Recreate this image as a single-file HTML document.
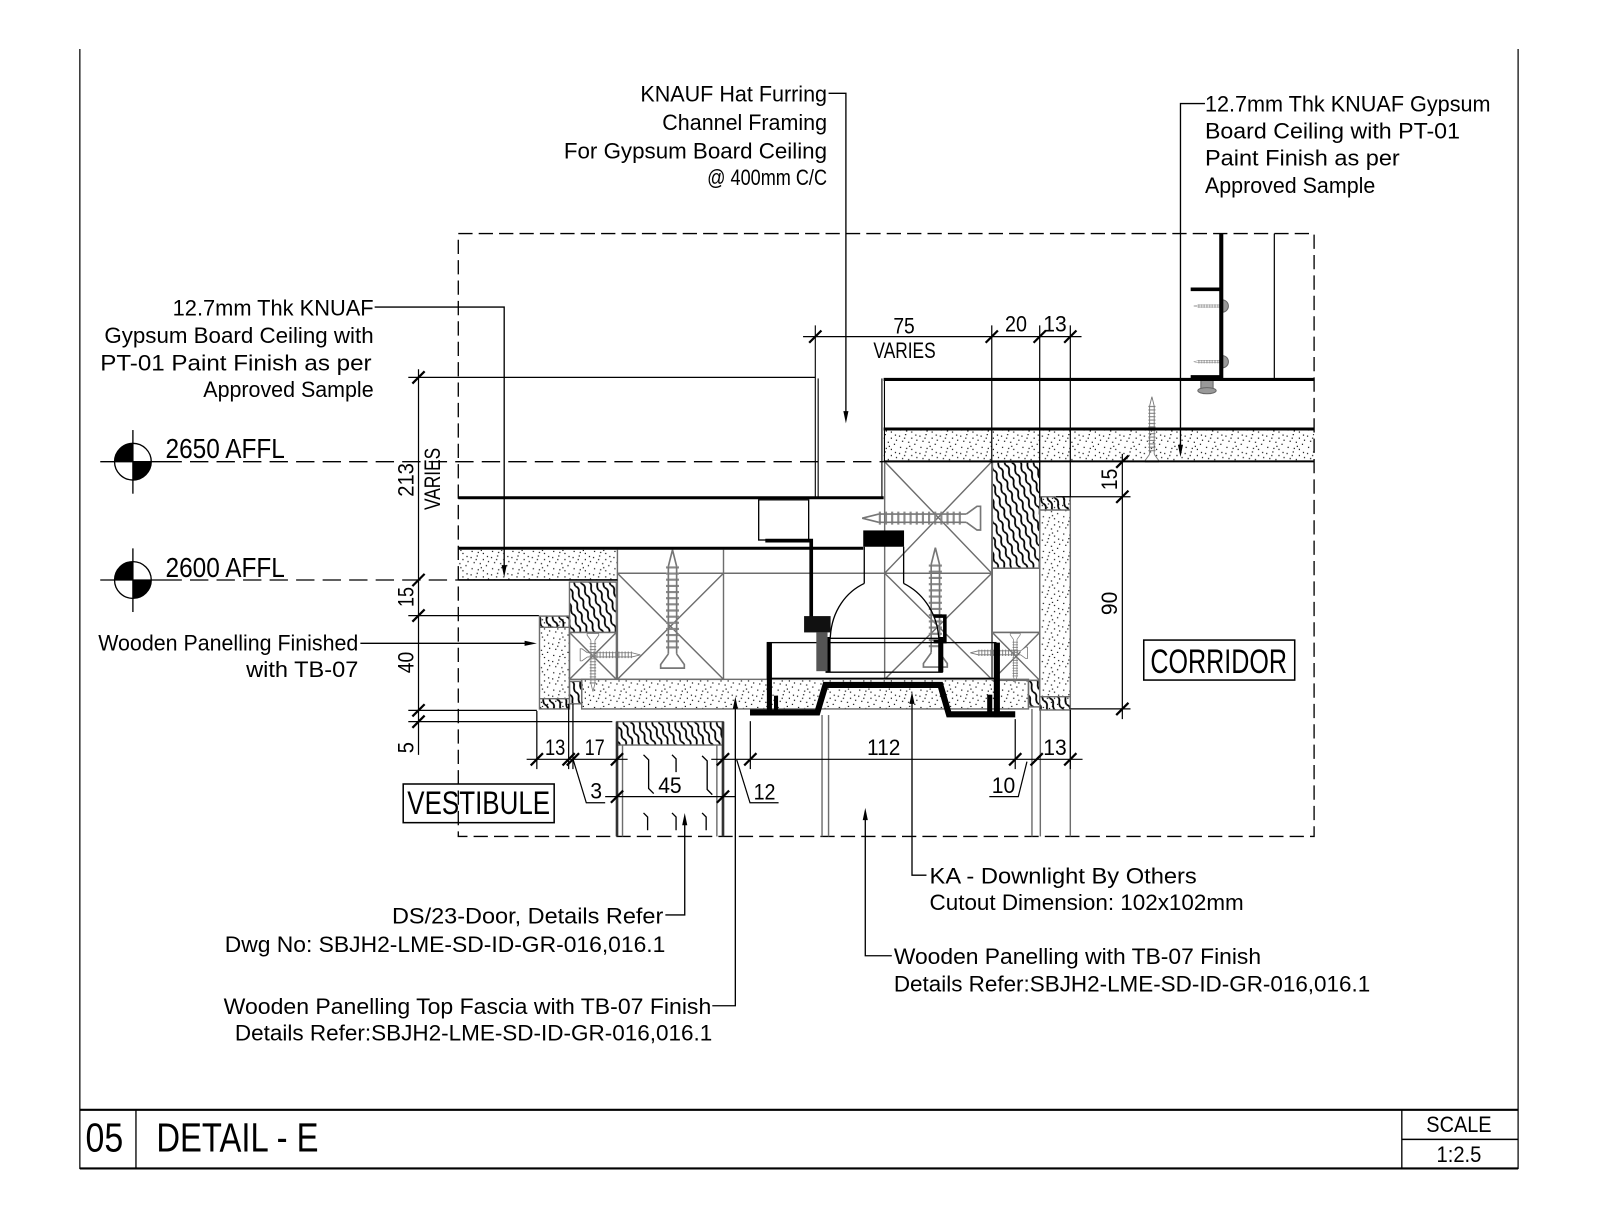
<!DOCTYPE html>
<html><head><meta charset="utf-8">
<style>
html,body{margin:0;padding:0;background:#fff;width:1600px;height:1222px;overflow:hidden;}
svg{display:block;}
text{font-family:"Liberation Sans",sans-serif;fill:#000;}
</style></head>
<body>
<svg width="1600" height="1222" viewBox="0 0 1568 1198" xmlns="http://www.w3.org/2000/svg" xmlns:xlink="http://www.w3.org/1999/xlink">
<defs>
 <pattern id="sp" patternUnits="userSpaceOnUse" width="20" height="17">
  <g fill="#000">
   <rect x="1" y="2" width="1.15" height="1.15"/><rect x="7" y="0.5" width="1.15" height="1.15"/>
   <rect x="13" y="4" width="1.15" height="1.15"/><rect x="17" y="1" width="1.15" height="1.15"/>
   <rect x="4" y="7" width="1.15" height="1.15"/><rect x="10" y="8" width="1.15" height="1.15"/>
   <rect x="16" y="10" width="1.15" height="1.15"/><rect x="2" y="13" width="1.15" height="1.15"/>
   <rect x="8" y="14" width="1.15" height="1.15"/><rect x="13" y="15" width="1.15" height="1.15"/>
   <rect x="18" y="6" width="1.15" height="1.15"/><rect x="11" y="12" width="1.15" height="1.15"/>
   <rect x="6" y="4" width="1.15" height="1.15"/>
  </g>
 </pattern>
 <pattern id="wd" patternUnits="userSpaceOnUse" width="6.5" height="12" patternTransform="rotate(-22)">
  <path d="M2,0 Q5,3 3.2,6 T2,12" fill="none" stroke="#000" stroke-width="1.7"/>
 </pattern>
 <g id="scr" fill="none" stroke="#777" stroke-width="1.4">
  <line x1="0" y1="14" x2="0" y2="86" stroke-width="11" stroke-dasharray="1.8 3.4" stroke="#8a8a8a"/>
  <path d="M-3.5,14 L0,0 L3.5,14"/>
  <line x1="-3.5" y1="14" x2="-3.5" y2="88"/>
  <line x1="3.5" y1="14" x2="3.5" y2="88"/>
  <path d="M-3.5,88 L-10,97 L-10,100 L10,100 L10,97 L3.5,88" fill="#fff"/>
 </g>
</defs>

<rect x="0" y="0" width="1568" height="1198" fill="#fff"/>

<!-- Sheet border & title block -->
<g stroke="#000" fill="none">
 <line x1="78" y1="48" x2="78" y2="1146" stroke-width="1.2"/>
 <line x1="1488" y1="48" x2="1488" y2="1146" stroke-width="1.2"/>
 <line x1="78" y1="1088" x2="1488" y2="1088" stroke-width="2"/>
 <line x1="78" y1="1145.5" x2="1488" y2="1145.5" stroke-width="2"/>
 <line x1="133" y1="1088" x2="133" y2="1146" stroke-width="1.3"/>
 <line x1="1374" y1="1088" x2="1374" y2="1146" stroke-width="1.3"/>
 <line x1="1374" y1="1117" x2="1488" y2="1117" stroke-width="1.5"/>
</g>
<text x="83.5" y="1129" font-size="40" textLength="37" lengthAdjust="spacingAndGlyphs">05</text>
<text x="153" y="1129" font-size="40" textLength="159" lengthAdjust="spacingAndGlyphs">DETAIL - E</text>
<text x="1398" y="1110" font-size="22" textLength="64" lengthAdjust="spacingAndGlyphs">SCALE</text>
<text x="1408" y="1139" font-size="22" textLength="44" lengthAdjust="spacingAndGlyphs">1:2.5</text>

<!-- Detail boundary -->
<rect x="449" y="229" width="839" height="591" fill="none" stroke="#000" stroke-width="1.3" stroke-dasharray="14 6"/>

<!-- Fills -->
<rect x="866" y="422" width="422" height="30" fill="url(#sp)"/>
<rect x="449" y="539" width="156" height="29.5" fill="url(#sp)"/>
<rect x="570" y="666" width="438" height="29" fill="url(#sp)"/>
<rect x="528.6" y="604" width="29.4" height="91" fill="url(#sp)"/>
<rect x="1019" y="487" width="30" height="209" fill="url(#sp)"/>
<g fill="url(#wd)">
 <rect x="558" y="570.6" width="46" height="49.4"/>
 <rect x="972.5" y="453" width="46.5" height="104"/>
 <rect x="528.6" y="604" width="29.4" height="11"/>
 <rect x="528.6" y="685" width="29.4" height="10"/>
 <rect x="1019" y="487" width="30" height="13"/>
 <rect x="1019" y="683" width="30" height="13"/>
 <rect x="558" y="668" width="12" height="22"/>
 <rect x="1008" y="667" width="11" height="26"/>
 <rect x="604.6" y="707.5" width="103.9" height="22.9"/>
</g>

<!-- Gray timber outlines -->
<g stroke="#6d6d6d" stroke-width="1.4" fill="none">
 <rect x="528.6" y="604" width="29.4" height="91"/>
 <line x1="528.6" y1="615" x2="558" y2="615"/>
 <line x1="528.6" y1="685" x2="558" y2="685"/>
 <rect x="558" y="570.6" width="46" height="49.4"/>
 <rect x="558" y="620" width="46" height="46"/>
 <path d="M558,620 L604,666 M604,620 L558,666"/>
 <rect x="605" y="562" width="104" height="104"/>
 <path d="M605,562 L709,666 M709,562 L605,666"/>
 <line x1="605" y1="539" x2="605" y2="562"/>
 <line x1="709" y1="539" x2="709" y2="562"/>
 <line x1="605" y1="562" x2="972" y2="562"/>
 <rect x="867" y="452.6" width="105" height="213.4"/>
 <path d="M867,452.6 L972,562 M972,452.6 L867,562 M867,562 L972,666 M972,562 L867,666"/>
 <rect x="972.5" y="453" width="46.5" height="104"/>
 <rect x="972.5" y="557" width="46.5" height="63"/>
 <rect x="972.5" y="620" width="46.5" height="47"/>
 <path d="M972.5,620 L1019,667 M1019,620 L972.5,667"/>
 <rect x="1019" y="487" width="30" height="209"/>
 <line x1="1019" y1="500" x2="1049" y2="500"/>
 <line x1="1019" y1="683" x2="1049" y2="683"/>
 <rect x="570" y="666" width="438" height="29"/>
 <rect x="558" y="668" width="12" height="22"/>
 <rect x="1008" y="667" width="11" height="26"/>
 <rect x="604.6" y="707.5" width="103.9" height="22.9"/>
 <line x1="610" y1="730" x2="610" y2="820"/>
 <line x1="702.5" y1="730" x2="702.5" y2="820"/>
 <line x1="805.6" y1="701" x2="805.6" y2="820"/>
 <line x1="812" y1="701" x2="812" y2="820"/>
 <line x1="1011.4" y1="695" x2="1011.4" y2="820"/>
 <line x1="1019.6" y1="696" x2="1019.6" y2="820"/>
 <line x1="1049" y1="696" x2="1049" y2="820"/>
</g>
<g stroke="#333" stroke-width="2.6">
 <line x1="604.6" y1="707.5" x2="604.6" y2="820"/>
 <line x1="708.5" y1="707.5" x2="708.5" y2="820"/>
</g>
<!-- door section marks -->
<g stroke="#000" stroke-width="1.3" fill="none">
 <path d="M630.6,740 l5,5 v28 l5,5"/>
 <path d="M658.5,740 l4,4 v13"/>
 <path d="M688,741 l5,5 v28 l5,5"/>
 <path d="M630.6,797 l4,4 v13"/>
 <path d="M658.5,797 l4,4 v13"/>
 <path d="M688,797 l4,4 v13"/>
</g>

<!-- Screws -->
<use xlink:href="#scr" href="#scr" transform="translate(659,539) scale(1.16)"/>
<use xlink:href="#scr" href="#scr" transform="translate(581,678) rotate(180) scale(.57)"/>
<use xlink:href="#scr" href="#scr" transform="translate(627.5,642) rotate(90) scale(.59)"/>
<use xlink:href="#scr" href="#scr" transform="translate(845,508) rotate(-90) scale(1.16)"/>
<use xlink:href="#scr" href="#scr" transform="translate(916.7,537) scale(1.17)"/>
<use xlink:href="#scr" href="#scr" transform="translate(995,670) rotate(180) scale(.49)"/>
<use xlink:href="#scr" href="#scr" transform="translate(951,640) rotate(-90) scale(.56)"/>
<use xlink:href="#scr" href="#scr" transform="translate(1129,389) scale(.64)"/>
<use xlink:href="#scr" href="#scr" transform="translate(1170,300) rotate(-90) scale(.3)"/>
<use xlink:href="#scr" href="#scr" transform="translate(1170,354.6) rotate(-90) scale(.3)"/>
<g fill="#999" stroke="#666" stroke-width="1">
 <path d="M1198,294 A6,6 0 0 1 1198,306 Z"/>
 <path d="M1198,348.6 A6,6 0 0 1 1198,360.6 Z"/>
 <rect x="1177" y="373" width="12" height="8"/>
 <ellipse cx="1183" cy="383" rx="9" ry="3"/>
</g>

<!-- Main black construction lines -->
<g stroke="#000" fill="none">
 <line x1="866" y1="372" x2="1288" y2="372" stroke-width="3"/>
 <line x1="866" y1="420.6" x2="1288" y2="420.6" stroke-width="3"/>
 <line x1="866" y1="452.3" x2="1288" y2="452.3" stroke-width="2"/>
 <line x1="449" y1="488" x2="866" y2="488" stroke-width="3"/>
 <line x1="449" y1="537.5" x2="846" y2="537.5" stroke-width="3"/>
 <line x1="449" y1="568.6" x2="605" y2="568.6" stroke-width="1.6"/>
 <line x1="799" y1="319" x2="799" y2="488" stroke-width="1.1"/>
 <line x1="801.8" y1="371" x2="801.8" y2="488" stroke-width="1.1"/>
 <line x1="864.3" y1="371" x2="864.3" y2="488" stroke-width="1.1"/>
 <line x1="866.8" y1="371" x2="866.8" y2="452.6" stroke-width="1.1"/>
 <line x1="400" y1="370" x2="799" y2="370" stroke-width="1.2"/>
 <!-- stud -->
 <line x1="1197" y1="229" x2="1197" y2="372" stroke-width="4"/>
 <line x1="1167" y1="283.6" x2="1196" y2="283.6" stroke-width="3.5"/>
 <line x1="1167" y1="369.5" x2="1196" y2="369.5" stroke-width="3.5"/>
 <line x1="1249" y1="229" x2="1249" y2="372" stroke-width="1.2"/>
 <!-- hat channel box -->
 <rect x="743.5" y="490" width="49" height="39.4" stroke-width="1.3"/>
 <polyline points="750,530 795,530 795,608" stroke-width="3.6"/>
</g>

<!-- Downlight -->
<g stroke="#000" fill="none">
 <rect x="846" y="520" width="40" height="16" fill="#000" stroke="none"/>
 <line x1="847" y1="536" x2="847" y2="572" stroke-width="1.3"/>
 <line x1="885.6" y1="536" x2="885.6" y2="572" stroke-width="1.3"/>
 <path d="M813.7,625 C815,598 830,580 847,572" stroke-width="1.3"/>
 <path d="M885.6,572 C902,580 918,598 920,625" stroke-width="1.3"/>
 <line x1="809" y1="625.8" x2="921.6" y2="625.8" stroke-width="1.3"/>
 <rect x="752" y="630" width="224" height="35" stroke-width="1.3"/>
 <line x1="811.5" y1="624.5" x2="811.5" y2="659" stroke-width="5"/>
 <line x1="922" y1="624.5" x2="922" y2="659" stroke-width="5"/>
 <line x1="809" y1="659" x2="924" y2="659" stroke-width="1.3"/>
 <polyline points="735,698.5 801,698.5 809,671.5 921.6,671.5 930,700.3 995,700.3" stroke-width="6"/>
 <line x1="754" y1="630" x2="754" y2="701" stroke-width="5"/>
 <line x1="977" y1="630" x2="977" y2="703" stroke-width="6"/>
 <line x1="760.5" y1="682" x2="760.5" y2="698" stroke-width="4"/>
 <line x1="970" y1="681" x2="970" y2="698" stroke-width="5"/>
 <rect x="788" y="604" width="26" height="16" fill="#111" stroke="none"/>
 <rect x="800" y="620" width="11" height="38" fill="#555" stroke="none"/>
 <path d="M915,604 h11 v25 h-11" stroke-width="3.5"/>
</g>

<!-- Datum markers -->
<g stroke="#000" stroke-width="1.3" fill="none">
 <circle cx="130" cy="452.6" r="18"/>
 <line x1="130" y1="421.6" x2="130" y2="484"/>
 <line x1="98" y1="452.6" x2="160" y2="452.6"/>
 <circle cx="130" cy="568.6" r="18"/>
 <line x1="130" y1="537.6" x2="130" y2="600"/>
 <line x1="98" y1="568.6" x2="160" y2="568.6"/>
 <line x1="160" y1="452.6" x2="866" y2="452.6" stroke-dasharray="18 8"/>
 <line x1="160" y1="568.6" x2="449" y2="568.6" stroke-dasharray="18 8"/>
</g>
<g fill="#000">
 <path d="M130,452.6 L112,452.6 A18,18 0 0 1 130,434.6 Z"/>
 <path d="M130,452.6 L148,452.6 A18,18 0 0 1 130,470.6 Z"/>
 <path d="M130,568.6 L112,568.6 A18,18 0 0 1 130,550.6 Z"/>
 <path d="M130,568.6 L148,568.6 A18,18 0 0 1 130,586.6 Z"/>
</g>
<text x="162" y="449" font-size="27.5" textLength="117" lengthAdjust="spacingAndGlyphs">2650 AFFL</text>
<text x="162" y="565.5" font-size="27.5" textLength="117" lengthAdjust="spacingAndGlyphs">2600 AFFL</text>

<!-- Dimension lines -->
<g stroke="#000" stroke-width="1.2" fill="none">
 <line x1="787" y1="330" x2="1060" y2="330"/>
 <line x1="972" y1="319" x2="972" y2="454"/>
 <line x1="1019" y1="319" x2="1019" y2="488"/>
 <line x1="1049" y1="319" x2="1049" y2="487"/>
 <line x1="410" y1="362" x2="410" y2="740"/>
 <line x1="400" y1="603.5" x2="528" y2="603.5"/>
 <line x1="400" y1="696.4" x2="526" y2="696.4"/>
 <line x1="400" y1="707.5" x2="600" y2="707.5"/>
 <line x1="516" y1="744.4" x2="615" y2="744.4"/>
 <line x1="697" y1="744.4" x2="1061" y2="744.4"/>
 <line x1="593" y1="781" x2="720.6" y2="781"/>
 <line x1="526" y1="697" x2="526" y2="754"/>
 <line x1="557.2" y1="690" x2="557.2" y2="754"/>
 <line x1="561.4" y1="690" x2="561.4" y2="754"/>
 <line x1="735.3" y1="707" x2="735.3" y2="754"/>
 <line x1="995" y1="705" x2="995" y2="754"/>
 <line x1="1049" y1="696" x2="1049" y2="754"/>
 <line x1="1100" y1="445" x2="1100" y2="705"/>
 <line x1="1035" y1="487" x2="1108" y2="487"/>
 <line x1="1049" y1="695" x2="1108" y2="695"/>
 <polyline points="561.4,744 574.5,787 593,787"/>
 <polyline points="722,745 735,787 763,787"/>
 <polyline points="1006.5,746.7 998,781 969.6,781"/>
</g>
<g stroke="#000" stroke-width="2.2">
 <line x1="793" y1="336" x2="805" y2="324"/>
 <line x1="966" y1="336" x2="978" y2="324"/>
 <line x1="1013" y1="336" x2="1025" y2="324"/>
 <line x1="1043" y1="336" x2="1055" y2="324"/>
 <line x1="404" y1="376" x2="416" y2="364"/>
 <line x1="404" y1="574.6" x2="416" y2="562.6"/>
 <line x1="404" y1="609.5" x2="416" y2="597.5"/>
 <line x1="404" y1="702.4" x2="416" y2="690.4"/>
 <line x1="404" y1="713.5" x2="416" y2="701.5"/>
 <line x1="520" y1="750.4" x2="532" y2="738.4"/>
 <line x1="551.2" y1="750.4" x2="563.2" y2="738.4"/>
 <line x1="555.4" y1="750.4" x2="567.4" y2="738.4"/>
 <line x1="598.6" y1="750.4" x2="610.6" y2="738.4"/>
 <line x1="702.5" y1="750.4" x2="714.5" y2="738.4"/>
 <line x1="729.3" y1="750.4" x2="741.3" y2="738.4"/>
 <line x1="989" y1="750.4" x2="1001" y2="738.4"/>
 <line x1="1010" y1="750.4" x2="1022" y2="738.4"/>
 <line x1="1043" y1="750.4" x2="1055" y2="738.4"/>
 <line x1="598.6" y1="787" x2="610.6" y2="775"/>
 <line x1="702.5" y1="787" x2="714.5" y2="775"/>
 <line x1="1094" y1="458.6" x2="1106" y2="446.6"/>
 <line x1="1094" y1="493" x2="1106" y2="481"/>
 <line x1="1094" y1="701" x2="1106" y2="689"/>
</g>

<!-- Dimension text -->
<g font-size="22">
 <text x="875.5" y="327" textLength="21" lengthAdjust="spacingAndGlyphs">75</text>
 <text x="856" y="351" textLength="61" lengthAdjust="spacingAndGlyphs">VARIES</text>
 <text x="985" y="325" textLength="21.5" lengthAdjust="spacingAndGlyphs">20</text>
 <text x="1022.5" y="325" textLength="23" lengthAdjust="spacingAndGlyphs">13</text>
 <text x="534" y="740" textLength="20" lengthAdjust="spacingAndGlyphs">13</text>
 <text x="573" y="740" textLength="19.5" lengthAdjust="spacingAndGlyphs">17</text>
 <text x="578.4" y="782.6" textLength="11.6" lengthAdjust="spacingAndGlyphs">3</text>
 <text x="645" y="777.5" textLength="23" lengthAdjust="spacingAndGlyphs">45</text>
 <text x="738.5" y="784" textLength="21.5" lengthAdjust="spacingAndGlyphs">12</text>
 <text x="849.7" y="740" textLength="32.7" lengthAdjust="spacingAndGlyphs">112</text>
 <text x="1022.5" y="740" textLength="23" lengthAdjust="spacingAndGlyphs">13</text>
 <text x="972" y="777.5" textLength="23" lengthAdjust="spacingAndGlyphs">10</text>
 <text transform="translate(405,470.5) rotate(-90)" text-anchor="middle" textLength="33" lengthAdjust="spacingAndGlyphs">213</text>
 <text transform="translate(431,469.5) rotate(-90)" text-anchor="middle" textLength="61" lengthAdjust="spacingAndGlyphs">VARIES</text>
 <text transform="translate(405,585.3) rotate(-90)" text-anchor="middle" textLength="19.5" lengthAdjust="spacingAndGlyphs">15</text>
 <text transform="translate(405,649.5) rotate(-90)" text-anchor="middle" textLength="21" lengthAdjust="spacingAndGlyphs">40</text>
 <text transform="translate(405,733) rotate(-90)" text-anchor="middle" textLength="11" lengthAdjust="spacingAndGlyphs">5</text>
 <text transform="translate(1094.8,470) rotate(-90)" text-anchor="middle" textLength="21" lengthAdjust="spacingAndGlyphs">15</text>
 <text transform="translate(1094.8,591.5) rotate(-90)" text-anchor="middle" textLength="23" lengthAdjust="spacingAndGlyphs">90</text>
</g>

<!-- Room tags -->
<rect x="1121" y="627.5" width="148" height="39.2" fill="none" stroke="#000" stroke-width="1.5"/>
<text x="1127.5" y="660" font-size="33.6" textLength="134" lengthAdjust="spacingAndGlyphs">CORRIDOR</text>
<rect x="395" y="768.6" width="148" height="37.9" fill="none" stroke="#000" stroke-width="1.5"/>
<text x="399" y="798" font-size="32" textLength="140" lengthAdjust="spacingAndGlyphs">VESTIBULE</text>

<!-- Leaders -->
<g stroke="#000" stroke-width="1.3" fill="none">
 <polyline points="812,91.5 829,91.5 829,405"/>
 <polyline points="1181,101.5 1157,101.5 1157,438"/>
 <polyline points="367,301 494,301 494,556"/>
 <line x1="353" y1="630.7" x2="517" y2="630.7"/>
 <polyline points="652,897 671,897 671,807"/>
 <polyline points="698,986 720.6,986 720.6,693"/>
 <polyline points="908,858 893.8,858 893.8,688"/>
 <polyline points="874,937 848,937 848,802"/>
</g>
<g fill="#000">
 <polygon points="826.5,403 831.5,403 829,415"/>
 <polygon points="1154.5,436 1159.5,436 1157,448"/>
 <polygon points="491.5,554 496.5,554 494,566"/>
 <polygon points="514,628.2 514,633.2 526,630.7"/>
 <polygon points="668.5,809 673.5,809 671,797"/>
 <polygon points="718.1,695 723.1,695 720.6,683"/>
 <polygon points="891.3,690 896.3,690 893.8,678"/>
 <polygon points="845.5,804 850.5,804 848,792"/>
</g>

<!-- Annotation text -->
<g font-size="22">
 <text x="627.5" y="99.7" textLength="183" lengthAdjust="spacingAndGlyphs">KNAUF Hat Furring</text>
 <text x="649" y="127.5" textLength="161.5" lengthAdjust="spacingAndGlyphs">Channel Framing</text>
 <text x="552.5" y="155.2" textLength="258" lengthAdjust="spacingAndGlyphs">For Gypsum Board Ceiling</text>
 <text x="693" y="181.4" textLength="117.5" lengthAdjust="spacingAndGlyphs">@ 400mm C/C</text>

 <text x="1181" y="109.2" textLength="280" lengthAdjust="spacingAndGlyphs">12.7mm Thk KNUAF Gypsum</text>
 <text x="1181" y="135.7" textLength="250" lengthAdjust="spacingAndGlyphs">Board Ceiling with PT-01</text>
 <text x="1181" y="162.2" textLength="191" lengthAdjust="spacingAndGlyphs">Paint Finish as per</text>
 <text x="1181" y="189.2" textLength="167" lengthAdjust="spacingAndGlyphs">Approved Sample</text>

 <text x="169" y="309.2" textLength="197" lengthAdjust="spacingAndGlyphs">12.7mm Thk KNUAF</text>
 <text x="102" y="336.2" textLength="264" lengthAdjust="spacingAndGlyphs">Gypsum Board Ceiling with</text>
 <text x="98" y="363" textLength="266" lengthAdjust="spacingAndGlyphs">PT-01 Paint Finish as per</text>
 <text x="199" y="389.3" textLength="167" lengthAdjust="spacingAndGlyphs">Approved Sample</text>

 <text x="96" y="637.5" textLength="255" lengthAdjust="spacingAndGlyphs">Wooden Panelling Finished</text>
 <text x="241" y="663.5" textLength="110" lengthAdjust="spacingAndGlyphs">with TB-07</text>

 <text x="384" y="905.2" textLength="266" lengthAdjust="spacingAndGlyphs">DS/23-Door, Details Refer</text>
 <text x="220" y="933.2" textLength="432" lengthAdjust="spacingAndGlyphs">Dwg No: SBJH2-LME-SD-ID-GR-016,016.1</text>

 <text x="219" y="994.2" textLength="478" lengthAdjust="spacingAndGlyphs">Wooden Panelling Top Fascia with TB-07 Finish</text>
 <text x="230" y="1020.2" textLength="468" lengthAdjust="spacingAndGlyphs">Details Refer:SBJH2-LME-SD-ID-GR-016,016.1</text>

 <text x="911" y="866.2" textLength="262" lengthAdjust="spacingAndGlyphs">KA - Downlight By Others</text>
 <text x="911" y="892.2" textLength="308" lengthAdjust="spacingAndGlyphs">Cutout Dimension: 102x102mm</text>

 <text x="876" y="945.2" textLength="360" lengthAdjust="spacingAndGlyphs">Wooden Panelling with TB-07 Finish</text>
 <text x="876" y="972.2" textLength="467" lengthAdjust="spacingAndGlyphs">Details Refer:SBJH2-LME-SD-ID-GR-016,016.1</text>
</g>
</svg>
</body></html>
